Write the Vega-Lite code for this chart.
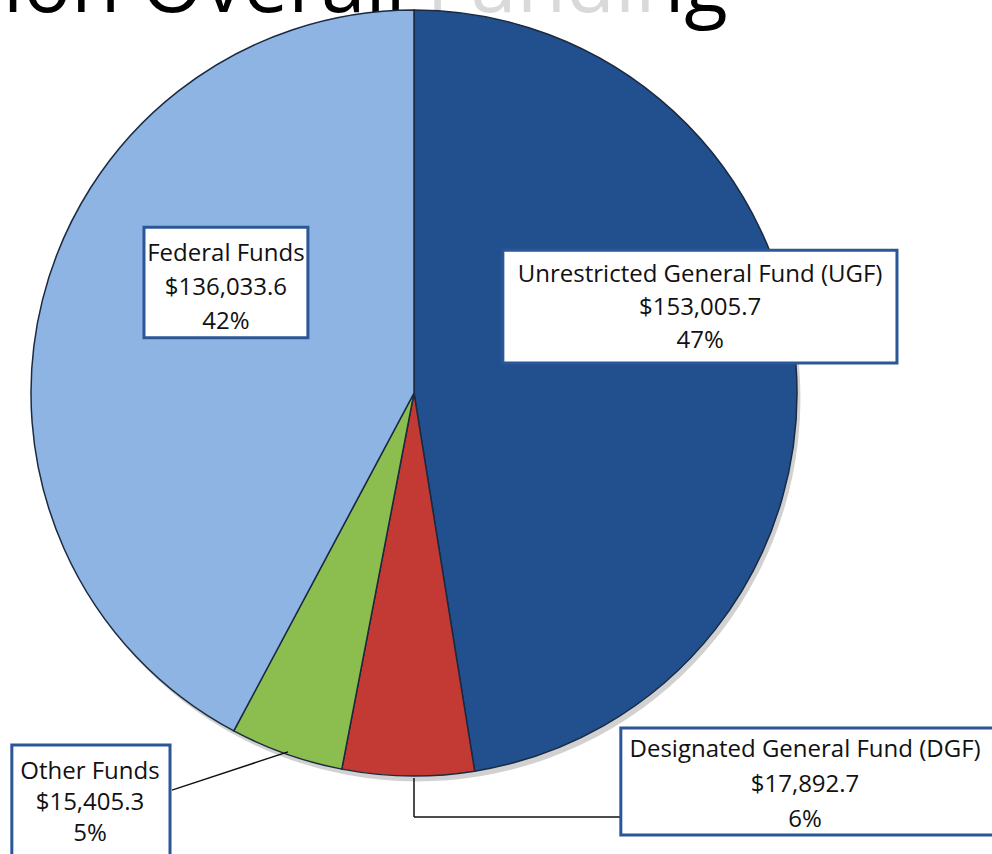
{
  "$schema": "https://vega.github.io/schema/vega-lite/v6.json",
  "width": 992,
  "height": 854,
  "padding": 0,
  "autosize": {"type": "none"},
  "background": "white",
  "config": {"view": {"stroke": null}},
  "data": {
    "values": [
      {"fund": "Unrestricted General Fund (UGF)", "amount": 153005.7, "pct": "47%"},
      {"fund": "Designated General Fund (DGF)", "amount": 17892.7, "pct": "6%"},
      {"fund": "Other Funds", "amount": 15405.3, "pct": "5%"},
      {"fund": "Federal Funds", "amount": 136033.6, "pct": "42%"}
    ]
  },
  "encoding": {
    "x": {"type": "quantitative", "scale": {"domain": [-1.0809, 1.5091], "nice": false, "zero": false}, "axis": null},
    "y": {"type": "quantitative", "scale": {"domain": [-1.2037, 1.0261], "nice": false, "zero": false}, "axis": null}
  },
  "layer": [
    {
      "data": {"values": [{"title": "ion Overall Funding"}]},
      "mark": {"type": "text", "font": "Open Sans", "fontSize": 80, "align": "left", "baseline": "alphabetic", "color": "#000000"},
      "encoding": {
        "x": {"datum": -1.0731},
        "y": {"datum": 0.9948},
        "text": {"field": "title"}
      }
    },
    {
      "data": {"values": [{}]},
      "mark": {"type": "rect", "fill": "white", "opacity": 0.85},
      "encoding": {"x": {"datum": -0.01}, "x2": {"datum": 0.67}, "y": {"datum": 1.0261}, "y2": {"datum": 0.9}}
    },
    {
      "transform": [{"window": [{"op": "row_number", "as": "seq"}]}],
      "mark": {"type": "arc", "outerRadius": 383, "color": "#9a9a9a", "opacity": 0.45},
      "encoding": {
        "x": {"datum": 0.009},
        "y": {"datum": -0.014},
        "theta": {"field": "amount", "type": "quantitative", "stack": true},
        "order": {"field": "seq", "type": "quantitative"}
      }
    },
    {
      "transform": [{"window": [{"op": "row_number", "as": "seq"}]}],
      "mark": {"type": "arc", "outerRadius": 383, "stroke": "#1b2a40", "strokeWidth": 1.5},
      "encoding": {
        "x": {"datum": 0},
        "y": {"datum": 0},
        "theta": {"field": "amount", "type": "quantitative", "stack": true},
        "order": {"field": "seq", "type": "quantitative"},
        "color": {
          "field": "fund",
          "type": "nominal",
          "scale": {
            "domain": ["Unrestricted General Fund (UGF)", "Designated General Fund (DGF)", "Other Funds", "Federal Funds"],
            "range": ["#22508f", "#c23a33", "#8cbd4f", "#8eb4e3"]
          },
          "legend": null
        }
      }
    },
    {
      "data": {"values": [{}]},
      "mark": {"type": "rule", "color": "#111111", "strokeWidth": 1.5},
      "encoding": {"x": {"datum": -0.632}, "y": {"datum": -1.037}, "x2": {"datum": -0.329}, "y2": {"datum": -0.937}}
    },
    {
      "data": {"values": [{}]},
      "mark": {"type": "rule", "color": "#111111", "strokeWidth": 1.5},
      "encoding": {"x": {"datum": 0}, "y": {"datum": -1.005}, "x2": {"datum": 0}, "y2": {"datum": -1.107}}
    },
    {
      "data": {"values": [{}]},
      "mark": {"type": "rule", "color": "#111111", "strokeWidth": 1.5},
      "encoding": {"x": {"datum": 0}, "y": {"datum": -1.107}, "x2": {"datum": 0.54}, "y2": {"datum": -1.107}}
    },
    {
      "data": {"values": [{}]},
      "mark": {"type": "rect", "fill": "white", "stroke": "#2b5797", "strokeWidth": 3},
      "encoding": {"x": {"datum": 0.232}, "x2": {"datum": 1.261}, "y": {"datum": 0.373}, "y2": {"datum": 0.078}}
    },
    {
      "data": {"values": [{}]},
      "mark": {"type": "rect", "fill": "white", "stroke": "#2b5797", "strokeWidth": 3},
      "encoding": {"x": {"datum": -0.705}, "x2": {"datum": -0.277}, "y": {"datum": 0.433}, "y2": {"datum": 0.144}}
    },
    {
      "data": {"values": [{}]},
      "mark": {"type": "rect", "fill": "white", "stroke": "#2b5797", "strokeWidth": 3},
      "encoding": {"x": {"datum": -1.05}, "x2": {"datum": -0.637}, "y": {"datum": -0.919}, "y2": {"datum": -1.26}}
    },
    {
      "data": {"values": [{}]},
      "mark": {"type": "rect", "fill": "white", "stroke": "#2b5797", "strokeWidth": 3},
      "encoding": {"x": {"datum": 0.54}, "x2": {"datum": 1.53}, "y": {"datum": -0.875}, "y2": {"datum": -1.154}}
    },
    {
      "transform": [
        {"filter": "datum.fund === 'Unrestricted General Fund (UGF)'"},
        {"calculate": "[datum.fund, '$' + format(datum.amount, ',.1f'), datum.pct]", "as": "lines"}
      ],
      "mark": {"type": "text", "font": "Open Sans", "fontSize": 24, "lineHeight": 33, "align": "center", "baseline": "middle", "color": "#111111"},
      "encoding": {"x": {"datum": 0.747}, "y": {"datum": 0.308}, "text": {"field": "lines"}}
    },
    {
      "transform": [
        {"filter": "datum.fund === 'Federal Funds'"},
        {"calculate": "[datum.fund, '$' + format(datum.amount, ',.1f'), datum.pct]", "as": "lines"}
      ],
      "mark": {"type": "text", "font": "Open Sans", "fontSize": 24, "lineHeight": 34, "align": "center", "baseline": "middle", "color": "#111111"},
      "encoding": {"x": {"datum": -0.491}, "y": {"datum": 0.363}, "text": {"field": "lines"}}
    },
    {
      "transform": [
        {"filter": "datum.fund === 'Other Funds'"},
        {"calculate": "[datum.fund, '$' + format(datum.amount, ',.1f'), datum.pct]", "as": "lines"}
      ],
      "mark": {"type": "text", "font": "Open Sans", "fontSize": 24, "lineHeight": 31, "align": "center", "baseline": "middle", "color": "#111111"},
      "encoding": {"x": {"datum": -0.846}, "y": {"datum": -0.99}, "text": {"field": "lines"}}
    },
    {
      "transform": [
        {"filter": "datum.fund === 'Designated General Fund (DGF)'"},
        {"calculate": "[datum.fund, '$' + format(datum.amount, ',.1f'), datum.pct]", "as": "lines"}
      ],
      "mark": {"type": "text", "font": "Open Sans", "fontSize": 24, "lineHeight": 35, "align": "center", "baseline": "middle", "color": "#111111"},
      "encoding": {"x": {"datum": 1.021}, "y": {"datum": -0.932}, "text": {"field": "lines"}}
    }
  ]
}
